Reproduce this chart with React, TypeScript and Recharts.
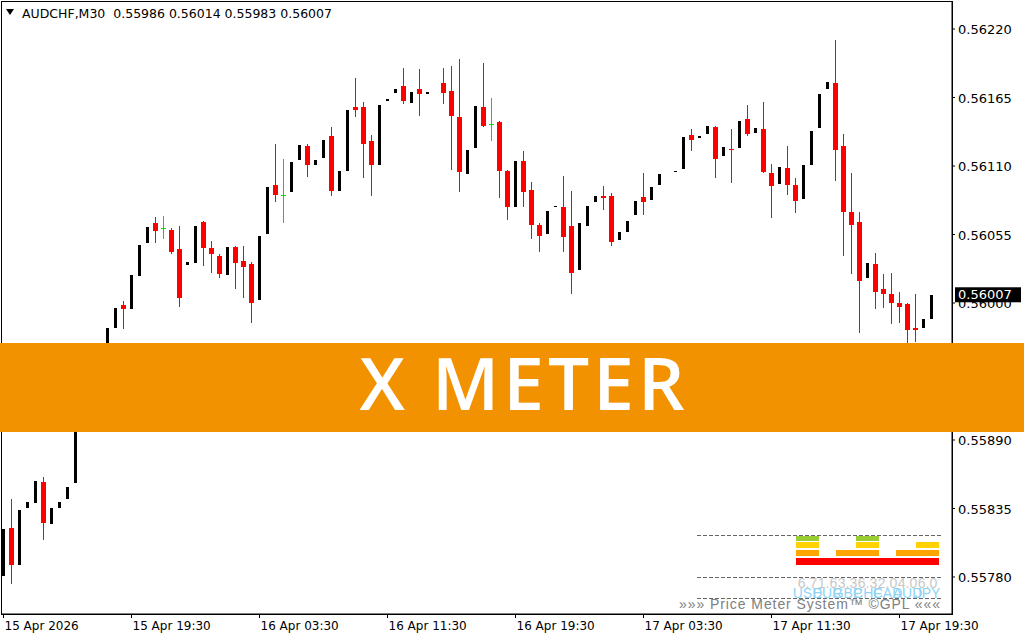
import React from 'react';
import { ComposedChart, Bar, XAxis, YAxis, ReferenceLine } from 'recharts';

// AUDCHF M30, first bar 15 Apr 11:30
const opens = [
  0.55780, 0.55819, 0.55789, 0.55835, 0.55839, 0.55856, 0.55822, 0.55835, 0.55842, 0.55855,
  0.55909, 0.55924, 0.55917, 0.55945, 0.55979, 0.55998, 0.55994, 0.56021, 0.56047, 0.56064,
  0.56060, 0.56059, 0.56043, 0.56030, 0.56031, 0.56065, 0.56044, 0.56038, 0.56022, 0.56045,
  0.56034, 0.56031, 0.56002, 0.56055, 0.56095, 0.56087, 0.56088, 0.56114, 0.56126, 0.56110,
  0.56116, 0.56134, 0.56089, 0.56105, 0.56157, 0.56157, 0.56130, 0.56110, 0.56161, 0.56168,
  0.56174, 0.56160, 0.56172, 0.56167, 0.56169, 0.56177, 0.56170, 0.56149, 0.56103, 0.56124,
  0.56157, 0.56144, 0.56145, 0.56106, 0.56076, 0.56114, 0.56091, 0.56063, 0.56055, 0.56076,
  0.56077, 0.56062, 0.56026, 0.56061, 0.56080, 0.56086, 0.56086, 0.56050, 0.56056, 0.56070,
  0.56085, 0.56082, 0.56094, 0.56103, 0.56104, 0.56107, 0.56135, 0.56132, 0.56135, 0.56141,
  0.56117, 0.56124, 0.56124, 0.56148, 0.56136, 0.56140, 0.56104, 0.56095, 0.56108, 0.56095,
  0.56083, 0.56110, 0.56140, 0.56171, 0.56177, 0.56126, 0.56073, 0.56065, 0.56019, 0.56031,
  0.56011, 0.56007, 0.56000, 0.55999, 0.55980, 0.55979, 0.55986,
];
const highs = [
  0.55819, 0.55843, 0.55835, 0.55841, 0.55858, 0.55860, 0.55836, 0.55841, 0.55853, 0.55910,
  0.55924, 0.55930, 0.55945, 0.55981, 0.55997, 0.56002, 0.56023, 0.56047, 0.56062, 0.56069,
  0.56070, 0.56060, 0.56062, 0.56034, 0.56063, 0.56066, 0.56050, 0.56039, 0.56046, 0.56046,
  0.56046, 0.56033, 0.56055, 0.56094, 0.56128, 0.56116, 0.56114, 0.56128, 0.56128, 0.56116,
  0.56132, 0.56141, 0.56107, 0.56156, 0.56181, 0.56161, 0.56135, 0.56160, 0.56165, 0.56173,
  0.56189, 0.56170, 0.56188, 0.56170, 0.56170, 0.56189, 0.56190, 0.56196, 0.56124, 0.56159,
  0.56193, 0.56165, 0.56146, 0.56107, 0.56115, 0.56122, 0.56097, 0.56064, 0.56075, 0.56079,
  0.56102, 0.56090, 0.56065, 0.56079, 0.56087, 0.56094, 0.56088, 0.56058, 0.56067, 0.56083,
  0.56104, 0.56094, 0.56104, 0.56104, 0.56107, 0.56134, 0.56140, 0.56135, 0.56143, 0.56142,
  0.56126, 0.56140, 0.56147, 0.56159, 0.56141, 0.56161, 0.56112, 0.56110, 0.56126, 0.56100,
  0.56112, 0.56139, 0.56169, 0.56178, 0.56211, 0.56136, 0.56104, 0.56073, 0.56033, 0.56040,
  0.56023, 0.56024, 0.56009, 0.56000, 0.56007, 0.55988, 0.56014,
];
const lows = [
  0.55780, 0.55774, 0.55789, 0.55835, 0.55839, 0.55810, 0.55822, 0.55835, 0.55842, 0.55855,
  0.55909, 0.55914, 0.55917, 0.55945, 0.55979, 0.55979, 0.55994, 0.56021, 0.56047, 0.56048,
  0.56051, 0.56039, 0.55997, 0.56030, 0.56031, 0.56030, 0.56024, 0.56020, 0.56022, 0.56011,
  0.56004, 0.55984, 0.56002, 0.56055, 0.56081, 0.56064, 0.56088, 0.56114, 0.56101, 0.56110,
  0.56116, 0.56086, 0.56089, 0.56105, 0.56149, 0.56100, 0.56086, 0.56110, 0.56161, 0.56168,
  0.56160, 0.56160, 0.56150, 0.56167, 0.56169, 0.56160, 0.56107, 0.56089, 0.56103, 0.56124,
  0.56141, 0.56130, 0.56084, 0.56067, 0.56076, 0.56077, 0.56051, 0.56041, 0.56055, 0.56076,
  0.56041, 0.56007, 0.56026, 0.56061, 0.56080, 0.56075, 0.56046, 0.56050, 0.56056, 0.56070,
  0.56071, 0.56082, 0.56094, 0.56103, 0.56104, 0.56107, 0.56122, 0.56132, 0.56135, 0.56100,
  0.56117, 0.56096, 0.56124, 0.56134, 0.56136, 0.56104, 0.56068, 0.56095, 0.56087, 0.56072,
  0.56083, 0.56110, 0.56140, 0.56171, 0.56098, 0.56038, 0.56023, 0.55976, 0.56019, 0.55995,
  0.55996, 0.55983, 0.55984, 0.55966, 0.55969, 0.55979, 0.55983,
];
const closes = [
  0.55819, 0.55790, 0.55835, 0.55841, 0.55858, 0.55823, 0.55836, 0.55841, 0.55853, 0.55910,
  0.55924, 0.55918, 0.55945, 0.55981, 0.55997, 0.55995, 0.56023, 0.56047, 0.56062, 0.56058,
  0.56060, 0.56041, 0.56004, 0.56034, 0.56063, 0.56044, 0.56039, 0.56023, 0.56046, 0.56032,
  0.56029, 0.56000, 0.56055, 0.56094, 0.56087, 0.56087, 0.56114, 0.56128, 0.56111, 0.56116,
  0.56132, 0.56090, 0.56107, 0.56156, 0.56155, 0.56128, 0.56111, 0.56160, 0.56165, 0.56173,
  0.56162, 0.56170, 0.56168, 0.56170, 0.56170, 0.56169, 0.56150, 0.56105, 0.56124, 0.56159,
  0.56142, 0.56144, 0.56106, 0.56077, 0.56115, 0.56089, 0.56063, 0.56054, 0.56075, 0.56079,
  0.56053, 0.56024, 0.56065, 0.56079, 0.56087, 0.56084, 0.56049, 0.56058, 0.56067, 0.56083,
  0.56081, 0.56094, 0.56104, 0.56104, 0.56107, 0.56134, 0.56131, 0.56135, 0.56143, 0.56116,
  0.56126, 0.56123, 0.56147, 0.56136, 0.56141, 0.56105, 0.56094, 0.56110, 0.56095, 0.56082,
  0.56112, 0.56139, 0.56169, 0.56178, 0.56123, 0.56073, 0.56063, 0.56018, 0.56033, 0.56009,
  0.56007, 0.56000, 0.55997, 0.55978, 0.55978, 0.55988, 0.56007,
];

const timeTickIndex = [0, 16, 32, 48, 64, 80, 96, 112];
const timeTickLabels = [
  '15 Apr 2026', '15 Apr 19:30', '16 Apr 03:30', '16 Apr 11:30',
  '16 Apr 19:30', '17 Apr 03:30', '17 Apr 11:30', '17 Apr 19:30',
];
const priceTicks = [0.5578, 0.55835, 0.5589, 0.55945, 0.56, 0.56055, 0.5611, 0.56165, 0.5622];

const meterCurrencies = ['USD', 'EUR', 'GBP', 'CHF', 'CAD', 'AUD', 'JPY'];
const meterValues = [6.7, 1.6, 3.3, 6.3, 2.0, 4.0, 6.0];
const meterLevels = [4, 1, 2, 4, 1, 2, 3];

const BULL = '#000000';
const BEAR = '#ff0000';
const DOJI = '#00e000';
const FONT = '"DejaVu Sans", Verdana, sans-serif';

const data = opens.map((o, i) => ({
  idx: i,
  open: o,
  high: highs[i],
  low: lows[i],
  close: closes[i],
  range: [lows[i], highs[i]],
}));

const last = data[data.length - 1];

const Candle = (props: any) => {
  const { x, y, width, height, payload } = props;
  const { open, close, high, low } = payload;
  const top = Math.min(y, y + height);
  const ppu = Math.abs(height) / (high - low);
  const py = (p: number) => Math.round(top + (high - p) * ppu);
  const cx = x + width / 2;
  if (close > open) {
    // bull body: black fill inside a white 1px border, white wick
    const y1 = py(close) + 1;
    const y2 = py(open) - 1;
    if (y2 - y1 < 1) return <g />;
    return <rect x={cx - 1.5} y={y1} width={3} height={y2 - y1} fill={BULL} shapeRendering="crispEdges" />;
  }
  const color = close === open ? DOJI : BEAR;
  const yo = py(open);
  const yc = py(close);
  return (
    <g shapeRendering="crispEdges">
      <rect x={cx - 0.5} y={py(high)} width={1} height={Math.max(1, py(low) - py(high))} fill={color} />
      <rect x={cx - 2.5} y={yo} width={5} height={Math.max(1, yc - yo)} fill={color} />
    </g>
  );
};

const TimeTick = (props: any) => {
  const { x, y, payload } = props;
  const k = timeTickIndex.indexOf(payload.value);
  return (
    <text x={x + 1} y={y + 12} fontSize={12} fontFamily={FONT} fill="#000" textAnchor="start">
      {timeTickLabels[k]}
    </text>
  );
};

const PriceTick = (props: any) => {
  const { x, y, payload } = props;
  return (
    <text x={x} y={y + 5} fontSize={13} fontFamily={FONT} fill="#000" textAnchor="start">
      {payload.value.toFixed(5)}
    </text>
  );
};

const PriceTag = (props: any) => {
  const vb = props.viewBox || {};
  const x0 = vb.x + vb.width + 3;
  const y0 = vb.y;
  return (
    <g>
      <rect x={x0} y={y0 - 7} width={66} height={15} fill="#000" />
      <text x={x0 + 3} y={y0 + 5} fontSize={13} fontFamily={FONT} fill="#fff">
        {last.close.toFixed(5)}
      </text>
    </g>
  );
};

const colW = 20;
const meterX = 796;
const rowColors = ['#ff0000', '#ffa500', '#ffd200', '#9acd32'];
const rowTops = [558, 550, 542, 536];
const rowHeights = [7, 6, 6, 5];

const App: React.FC = () => {
  const header = `AUDCHF,M30  ${last.open.toFixed(5)} ${last.high.toFixed(5)} ${last.low.toFixed(5)} ${last.close.toFixed(5)}`;
  return (
    <div style={{ position: 'absolute', left: 0, top: 0, width: 1024, height: 640, background: '#fff' }}>
      <ComposedChart width={1024} height={640} data={data} margin={{ top: 2, right: 0, bottom: 0, left: 2 }}>
        <XAxis
          dataKey="idx"
          type="number"
          domain={[-0.1875, 118.5625]}
          allowDataOverflow
          ticks={timeTickIndex}
          interval={0}
          height={26}
          tickSize={4}
          tickMargin={0}
          axisLine={{ stroke: '#000' }}
          tickLine={{ stroke: '#000' }}
          tick={<TimeTick />}
        />
        <YAxis
          orientation="right"
          width={72}
          domain={[0.55750292, 0.56241679]}
          allowDataOverflow
          ticks={priceTicks}
          interval={0}
          tickSize={3}
          tickMargin={3}
          axisLine={{ stroke: '#000' }}
          tickLine={{ stroke: '#000' }}
          tick={<PriceTick />}
        />
        <Bar dataKey="range" barSize={5} isAnimationActive={false} shape={(p: any) => <Candle {...p} />} />
        <ReferenceLine
          y={last.close}
          stroke="none"
          ifOverflow="visible"
          label={(p: any) => <PriceTag {...p} />}
        />
      </ComposedChart>
      <svg
        width={1024}
        height={640}
        style={{ position: 'absolute', left: 0, top: 0, pointerEvents: 'none' }}
      >
        <rect x={1.5} y={1.5} width={951} height={613} fill="none" stroke="#000" />
        <polygon points="6,9 14,9 10,15" fill="#000" />
        <text x={22} y={18} fontSize={12.5} fontFamily={FONT} fill="#000" style={{ whiteSpace: 'pre' }}>
          {header}
        </text>

        {[535.5, 577.5, 598.5].map((yy) => (
          <line key={yy} x1={697} x2={942} y1={yy} y2={yy} stroke="#666" strokeDasharray="4 2" />
        ))}
        {meterLevels.map((lvl, c) =>
          rowColors.map((col, r) =>
            lvl > r ? (
              <rect key={`${c}-${r}`} x={meterX + c * colW} y={rowTops[r]} width={23} height={rowHeights[r]} fill={col} />
            ) : null
          )
        )}
        {meterValues.map((v, c) => (
          <text key={`v${c}`} x={meterX + c * colW + 11.5} y={588} fontSize={14} fontFamily="Liberation Sans, Arial, sans-serif" fill="#c8c8c8" textAnchor="middle">
            {v.toFixed(1)}
          </text>
        ))}
        {meterCurrencies.map((cur, c) => (
          <text key={`c${c}`} x={meterX + c * colW + 11.5} y={598} fontSize={14} fontFamily="Liberation Sans, Arial, sans-serif" fill="#8fd3f5" textAnchor="middle">
            {cur}
          </text>
        ))}
        <text x={679} y={609} fontSize={14} fontFamily="Liberation Sans, Arial, sans-serif" fill="#808080" textLength={261} lengthAdjust="spacing">
          »»» Price Meter System™ ©GPL «««
        </text>

        <rect x={0} y={343} width={1024} height={89} fill="#f39200" />
        <text x={524} y={410} fontSize={73} fontWeight={600} fontFamily='"Open Sans", sans-serif' fill="#fff" textAnchor="middle" letterSpacing={4}>
          X METER
        </text>
      </svg>
    </div>
  );
};

export default App;
